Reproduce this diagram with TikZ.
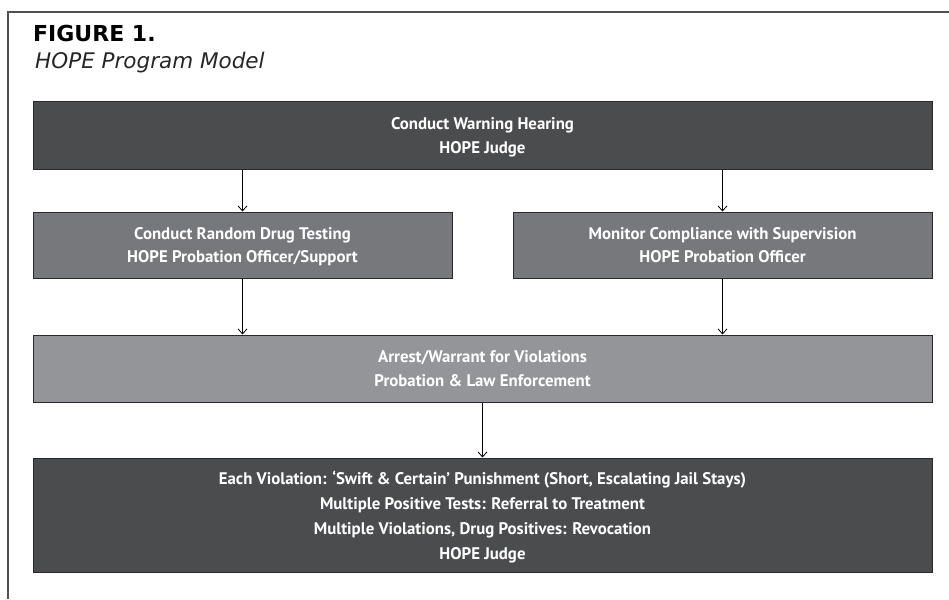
\documentclass[tikz,border=0pt]{standalone}
\usepackage{fontspec}
\setmainfont{PT Sans}
\newfontfamily\capfont{DejaVu Sans}
\usepackage{tikz}
\usetikzlibrary{calc}
\usetikzlibrary{arrows.meta}

\definecolor{boxdark}{HTML}{4B4C4E}
\definecolor{boxmid}{HTML}{77787B}
\definecolor{boxlight}{HTML}{939598}
\definecolor{boxedge}{HTML}{2A2A2A}
\definecolor{framegray}{HTML}{505050}

\tikzset{
  hopebox/.style={draw=boxedge, line width=1pt, rectangle, inner sep=0pt,
    minimum height=#1, text=white, align=center, text depth=-1.5pt,
    font=\fontsize{16.8}{23.5}\selectfont\bfseries},
  wide/.style={minimum width=899pt},
  half/.style={minimum width=419pt},
  flow/.style={-{Straight Barb[length=5pt,width=9pt]}, line width=0.8pt, black}
}

\begin{document}
\begin{tikzpicture}[x=1pt, y=-1pt]
        \useasboundingbox (0,0) rectangle (949,599);
        % frame
        \draw[framegray, line width=1.4pt] (8,599) -- (8,12) -- (949,12);
        % caption
        \node[anchor=base west, inner sep=0pt, font=\capfont\fontsize{22}{24}\selectfont\bfseries] (fig) at (33,42) {FIGURE 1.};
        \node[anchor=base west, inner sep=0pt, font=\capfont\fontsize{21.5}{24}\selectfont\itshape, text=black!85] (title) at (35,69) {HOPE Program Model};
        % row 1
        \node[hopebox=67pt, wide, fill=boxdark] (warn) at (482.5,135.5)
          {Conduct Warning Hearing\\HOPE Judge};
        % row 2
        \node[hopebox=66pt, half, fill=boxmid] (tests) at (242.5,245)
          {Conduct Random Drug Testing\\HOPE Probation Officer/Support};
        \node[hopebox=66pt, half, fill=boxmid] (monitor) at (722.5,245)
          {Monitor Compliance with Supervision\\HOPE Probation Officer};
        % row 3
        \node[hopebox=67pt, wide, fill=boxlight] (arrest) at (482.5,368.5)
          {Arrest/Warrant for Violations\\Probation \& Law Enforcement};
        % row 4
        \node[hopebox=114pt, wide, fill=boxdark, font=\fontsize{16.8}{25}\selectfont\bfseries] (punish) at (482.5,515)
          {Each Violation: `Swift \& Certain' Punishment (Short, Escalating Jail Stays)\\
           Multiple Positive Tests: Referral to Treatment\\
           Multiple Violations, Drug Positives: Revocation\\
           HOPE Judge};
        % arrows
        \draw[flow] (warn.south -| tests.north) -- (tests.north);
        \draw[flow] (warn.south -| monitor.north) -- (monitor.north);
        \draw[flow] (tests.south) -- (tests.south |- arrest.north);
        \draw[flow] (monitor.south) -- (monitor.south |- arrest.north);
        \draw[flow] (arrest.south) -- (punish.north);
\end{tikzpicture}
\end{document}
